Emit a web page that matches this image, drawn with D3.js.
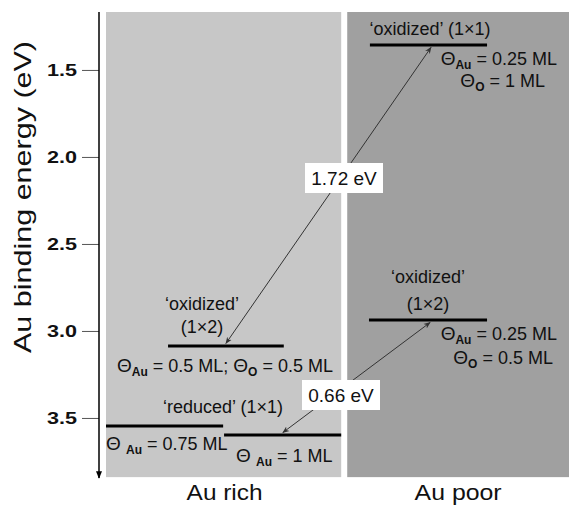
<html>
<head>
    <script src="https://d3js.org/d3.v7.min.js" charset="utf-8"></script>
    <style>
        body { margin: 0; background: #fff; }
        text { font-family: "Liberation Sans", Arial, sans-serif; fill: #111; }
    </style>
</head>
<body>
    <script type="text/javascript">
        // Chart size
        var width = 569;
        var height = 506;

        // Tick labels of the energy axis
        var tickValues = [1.5, 2.0, 2.5, 3.0, 3.5];

        // Two regimes (x given as fraction of the plot width)
        var regimes = ["Au rich", "Au poor"];
        var regimeStart = [0, 0.521];
        var regimeEnd = [0.508, 1];
        var regimeColor = ["#c7c7c7", "#a0a0a0"];

        // Energy levels: binding energy (eV) and horizontal extent
        var levelNames = ["ox12rich", "red075", "red1", "ox11poor", "ox12poor"];
        var levelEnergy = [3.086, 3.546, 3.598, 1.356, 2.937];
        var levelX0 = [0.134, 0, 0.255, 0.570, 0.568];
        var levelX1 = [0.384, 0.253, 0.508, 0.823, 0.823];

        // Transitions between levels
        var arrowLabels = ["1.72 eV", "0.66 eV"];
        var arrowFromE = [1.356, 3.598];
        var arrowToE = [3.086, 2.937];
        var arrowFromX = [0.702, 0.382];
        var arrowToX = [0.259, 0.700];

        var y = d3.scaleLinear().domain([1.167, 3.845]).range([12, 478]);
        var x = d3.scaleLinear().domain([0, 1]).range([106, 569]);

        var svg = d3.select("body").append("svg")
            .attr("width", width)
            .attr("height", height);

        var defs = svg.append("defs");
        defs.append("marker")
            .attr("id", "head")
            .attr("viewBox", "0 0 10 10")
            .attr("refX", 9).attr("refY", 5)
            .attr("markerWidth", 7).attr("markerHeight", 7)
            .attr("orient", "auto-start-reverse")
            .append("path").attr("d", "M0,1 L10,5 L0,9 L3,5 Z").attr("fill", "#333");
        defs.append("marker")
            .attr("id", "axhead")
            .attr("viewBox", "0 0 10 10")
            .attr("refX", 9).attr("refY", 5)
            .attr("markerWidth", 5).attr("markerHeight", 6)
            .attr("orient", "auto")
            .append("path").attr("d", "M0,1 L10,5 L0,9 Z").attr("fill", "#000");

        // Background panels
        svg.append("g").selectAll("rect")
            .data(regimes)
            .join("rect")
            .attr("x", (d, i) => x(regimeStart[i]))
            .attr("width", (d, i) => x(regimeEnd[i]) - x(regimeStart[i]))
            .attr("y", y(1.167))
            .attr("height", y(3.84) - y(1.167))
            .attr("fill", (d, i) => regimeColor[i]);

        var regimeLen = [76, 87];
        svg.append("g").selectAll("text")
            .data(regimes)
            .join("text")
            .attr("x", (d, i) => x((regimeStart[i] + regimeEnd[i]) / 2) + (i ? 0 : 1))
            .attr("y", 500)
            .attr("text-anchor", "middle")
            .attr("font-size", 22)
            .attr("textLength", (d, i) => regimeLen[i])
            .attr("lengthAdjust", "spacingAndGlyphs")
            .text(d => d);

        // Energy axis
        var axis = svg.append("g")
            .attr("transform", "translate(99,0)")
            .call(d3.axisLeft(y).tickValues(tickValues).tickFormat(d3.format(".1f")).tickSize(17).tickPadding(5));
        axis.select(".domain").remove();
        axis.selectAll(".tick line").attr("stroke", "#555");
        axis.selectAll(".tick text")
            .attr("font-size", 17)
            .attr("font-weight", "bold")
            .attr("textLength", 30)
            .attr("lengthAdjust", "spacingAndGlyphs")
            .attr("fill", "#222")
            .attr("font-family", "Liberation Sans, Arial, sans-serif");
        svg.append("line")
            .attr("x1", 99).attr("x2", 99)
            .attr("y1", y(1.167)).attr("y2", y(3.845))
            .attr("stroke", "#000").attr("stroke-width", 1.5)
            .attr("marker-end", "url(#axhead)");

        svg.append("text")
            .attr("transform", "translate(31,197) rotate(-90)")
            .attr("text-anchor", "middle")
            .attr("font-size", 24)
            .attr("textLength", 312)
            .attr("lengthAdjust", "spacingAndGlyphs")
            .text("Au binding energy (eV)");

        // Level bars
        svg.append("g").selectAll("line")
            .data(levelNames)
            .join("line")
            .attr("x1", (d, i) => x(levelX0[i]))
            .attr("x2", (d, i) => x(levelX1[i]))
            .attr("y1", (d, i) => y(levelEnergy[i]))
            .attr("y2", (d, i) => y(levelEnergy[i]))
            .attr("stroke", "#000")
            .attr("stroke-width", 3);

        // Arrows with labels
        var arrows = svg.append("g");
        arrowLabels.forEach(function(lab, i) {
            var x1 = x(arrowFromX[i]), y1 = y(arrowFromE[i]);
            var x2 = x(arrowToX[i]), y2 = y(arrowToE[i]);
            var sy = (y2 > y1 ? 1 : -1) * 2.5;
            arrows.append("line")
                .attr("x1", x1).attr("y1", y1 + sy)
                .attr("x2", x2).attr("y2", y2 - sy)
                .attr("stroke", "#333").attr("stroke-width", 1)
                .attr("marker-start", "url(#head)")
                .attr("marker-end", "url(#head)");
        });
        var boxX = [344, 341];
        var boxY = [178, 395];
        arrowLabels.forEach(function(lab, i) {
            arrows.append("rect")
                .attr("x", boxX[i] - 39).attr("y", boxY[i] - 15)
                .attr("width", 78).attr("height", 30)
                .attr("fill", "#fff");
            arrows.append("text")
                .attr("x", boxX[i]).attr("y", boxY[i] + 7)
                .attr("text-anchor", "middle")
                .attr("font-size", 19)
                .text(lab);
        });

        // Annotation text
        function theta(sel, sub, rest, spaced) {
            sel.append("tspan").attr("font-size", 19).text("\u0398" + (spaced ? " " : ""));
            sel.append("tspan").attr("font-size", 12).attr("font-weight", "bold").attr("dy", 4).text(sub);
            sel.append("tspan").attr("dy", -4).text(rest);
        }
        function label(px, py, anchor) {
            return svg.append("text").attr("x", px).attr("y", py)
                .attr("text-anchor", anchor).attr("font-size", 18);
        }

        label(430, 35, "middle").text("\u2018oxidized\u2019 (1\u00d71)");
        theta(label(557, 65, "end"), "Au", " = 0.25 ML");
        theta(label(545, 87, "end"), "O", " = 1 ML");

        label(428, 283, "middle").text("\u2018oxidized\u2019");
        label(428, 310, "middle").text("(1\u00d72)");
        theta(label(557, 340, "end"), "Au", " = 0.25 ML");
        theta(label(553, 364, "end"), "O", " = 0.5 ML");

        label(202, 310, "middle").text("\u2018oxidized\u2019");
        label(202, 333, "middle").text("(1\u00d72)");
        var t = label(117, 372, "start");
        theta(t, "Au", " = 0.5 ML; ");
        theta(t, "O", " = 0.5 ML");

        label(223, 413, "middle").text("\u2018reduced\u2019 (1\u00d71)");
        theta(label(106, 450, "start"), "Au", " = 0.75 ML", true);
        theta(label(236, 462, "start"), "Au", " = 1 ML", true);
    </script>
</body>
</html>
